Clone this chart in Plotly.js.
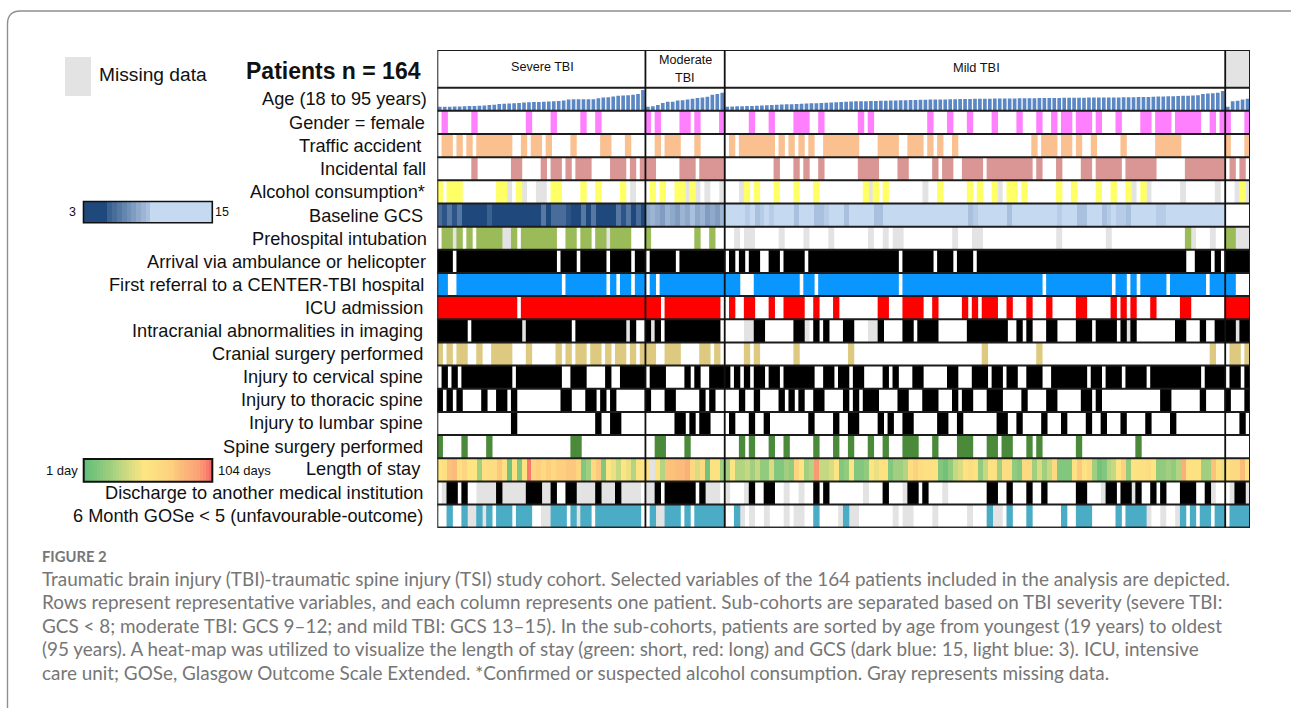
<!DOCTYPE html>
<html><head><meta charset="utf-8">
<script src="https://cdn.plot.ly/plotly-3.0.1.min.js"></script>
<style>html,body{margin:0;padding:0;background:#fff}#c{width:1291px;height:708px}</style>
</head><body><div id="c"></div>
<script>
// ---------- data ----------
const rowNames = ["Age (18 to 95 years)","Gender = female","Traffic accident","Incidental fall","Alcohol consumption*","Baseline GCS","Prehospital intubation","Arrival via ambulance or helicopter","First referral to a CENTER-TBI hospital","ICU admission","Intracranial abnormalities in imaging","Cranial surgery performed","Injury to cervical spine","Injury to thoracic spine","Injury to lumbar spine","Spine surgery performed","Length of stay","Discharge to another medical institution","6 Month GOSe < 5 (unfavourable-outcome)"];
const groupSizes = [42,16,101,5];

const ageSevere = [19,19,19,20,20,21,22,22,23,24,26,28,31,32,33,34,36,38,39,40,40,41,42,43,45,47,52,53,53,53,53,53,57,60,62,65,68,70,71,73,76,95];
const ageModerate = [19,21,27,36,41,41,47,48,51,55,58,61,64,73,76,82];
const ageMild = [19,20,21,21,22,22,23,24,25,27,28, 29,30,30,31,32,33,34,35,36,37, 38,39,40,41,42,43,44,44,45,45, 46,46,47,47,48,48,49,49,50,50, 51,51,52,52,53,53,54,54,54,55, 55,55,55,56,56,56,56,56,57,57, 57,57,58,58,58,58,58,59,59,59, 59,59,60,60,60,60,61,61,61,62, 62,62,63,63,63,64,65,65,66,66, 67,68,69,70,71,77,79,80,82,90];
const ageUnknown = [19,44,46,52,55];

const gcsSevere = [6,4,7,4,7,3,3,3,3,3,5,3,3,3,3,3,3,3,3,3,3,7,3,6,6,6,4,3,3,7,3,7,3,3,3,3,7,4,7,3,6,3];
const gcsModerate = [11,12,11,10,12,11,10,12,11,13,11,12,10,11,10,12];
const gcsMild = [15,15,15,15,14,15,13,14,15,14, 15,15,15,15,13,15,15,15,13,13, 14,15,15,15,13,15,15,15,15,15, 13,13,15,15,15,15,15,15,15,15, 15,15,15,15,15,15,15,15,15,13, 14,15,15,15,15,15,15,13,15,15, 15,15,15,15,15,15,15,14,15,15, 15,13,13,15,15,15,13,14,15,14, 14,13,15,15,15,15,15,14,14,15, 15,15,15,15,15,15,15,15,15,15,15];
const gcsUnknown = [null,null,null,null,null];
const gcsLegend = [3,3,3,3,3,5,6,7,8,9,10,11,12,13,15,15,15,15,15,15,15,15,15,15,15,15,15];

const losSevere = [10,12,22,24,12,16,10,10,5,12,13,13,20,12,2,11,3,11,85,16,18,14,18,14,18,18,20,20,16,3,5,14,20,3,10,9,7,10,9,6,11,10];
const losModerate = [11,null,11,6,22,22,24,24,30,15,8,14,2,11,11,5];
const losMild = [5,10,6,6,7,5,7,4,4,8, 3,3,5,4,16,10,5,6,45,7, 7,8,10,3,4,10,3,3,4,10, 9,11,11,3,5,5,6,13,17,13, 12,12,11,3,2,4,7,8,11,13, 11,4,7,11,12,5,13,13,4,3, 14,14,5,8,5,7,14,3,3,3, 11,20,11,14,5,2,3,6,7,10, 18,4,11,11,12,13,10,4,4,5, 4,6,30,12,11,11,5,5,22,12,9];
const losUnknown = [12,14,14,24,11];
const losMissing = [43];
const losLegend = [1,1.5,2,2.5,3,3.5,4,4.5,5,5.5,6,6.5,7,7.5,8,8.5,9,9.5,10,10,11,12,13,14,15,16,17,18,20,22,24,26,28,32,36,40,50,60,80,104];

// patient index runs: single index or [first,last]
const genderYes = [1,7,18,23,29,32,42,44,[49,50],52,57,63,67,[72,74],77,85,87,99,103,107,112,117,121,124,[126,127],[129,131],133,137,[142,143],[145,147],[149,153],156,158,159,163];
const trafficYes = [[1,2],4,6,[8,14],17,[19,20],22,27,[33,34],38,44,[46,48],52,59,[61,67],69,71,73,75,[78,84],[89,92],[95,97],99,101,104,120,[122,124],[126,127],129,132,138,[145,149],159,163];
const fallYes = [7,[15,16],21,[23,24],26,[28,30],[35,37],39,41,[42,43],[49,51],[53,57],68,72,74,77,[85,88],[93,94],100,[102,103],[106,109],[111,119],121,125,[130,131],[133,137],[139,144],[151,158],160,162];
const alcoholYes = [0,[2,4],[12,13],16,[23,24],29,32,37,43,45,[48,49],51,62,64,68,72,76,86,88,90,101,107,109,112,[115,116],118,125,128,133,136,139,142,162];
const alcoholMissing = [14,17,[20,21],39,50,52,54,57,61,87,98,113,140,143,150,157,161,163];
const intubationYes = [[1,2],4,6,[8,12],15,[17,23],[26,27],[29,30],[32,33],[35,38],42,52,55,151,[159,160]];
const intubationMissing = [3,[13,14],34,60,[62,63],69,74,79,87,90,[92,93],104,[108,109],125,135,152,156,[161,163]];
const arrivalNo = [3,24,28,34,39,42,48,58,60,62,[65,66],69,74,93,100,104,108,[151,152],156,158];
const referralNo = [[2,3],25,34,36,39,42,44,[61,63],73,76,93,122,136,139,141,147,155,[161,163]];
const icuNo = [16,45,57,58,60,61,[64,66],[68,69],[74,75],[77,79],[81,88],[91,93],[98,99],[101,105],107,109,[113,114],[116,118],[120,122],[124,128],[131,135],137,139,[141,143],[145,149],[152,158]];
const intracranialNo = [6,27,[40,41],45,57,[58,61],[66,71],75,77,[79,81],[84,86],[90,93],96,[101,106],[115,116],118,[120,122],[125,128],132,137,[141,148],[151,153],[155,156]];
const intracranialMissing = [17,38,43,[62,63],74,[87,88],139,161];
const cranialYes = [0,2,[4,5],8,[11,14],18,24,26,[28,29],[31,32],34,[36,37],39,41,[42,43],[46,48],[53,54],56,62,64,72,83,110,121,156,[160,161],163];
const cervicalNo = [0,2,4,15,[25,26],[30,33],[35,36],42,[46,49],51,[53,54],59,61,63,66,69,[76,77],80,83,[86,89],91,[93,95],[98,102],[105,107],111,114,[117,118],[122,123],131,134,138,143,154,159,162];
const thoracicYes = [0,2,4,9,[12,13],15,[25,26],[30,31],33,35,42,[46,47],53,55,61,64,69,71,73,[76,77],82,84,[86,88],[93,94],[98,100],104,[106,107],[111,113],118,[123,124],[130,131],133,[146,147],154,159,163];
const lumbarYes = [15,32,[35,36],[48,49],51,[53,54],59,63,66,75,80,[83,84],89,91,[94,95],[101,102],105,[113,114],117,122,126,131,134,138,143,148,162];
const spineSurgeryYes = [0,5,10,[27,28],[44,45],50,61,63,67,70,76,80,83,87,90,[94,96],100,[105,107],[111,112],[114,115],119,121,129,141];
const dischargeNo = [0,4,[6,7],[24,25],41,45,52,57,[59,61],[64,65],[68,69],[71,72],[74,75],77,[79,85],[87,89],[91,93],97,[99,101],[103,110],[113,114],[116,118],[120,121],[123,128],[131,133],137,[142,143],145,[147,149],[153,154],[157,158],159];
const dischargeMissing = [1,[8,11],[13,17],[21,22],[28,31],[33,35],[37,40],[42,43],[54,56],58,62,70,73,86,94,102,134,140,156,160,163];
const goseYes = [2,5,8,10,[12,14],[16,18],[23,25],27,[29,30],[32,40],43,[46,48],50,[52,57],60,76,82,111,115,119,126,[129,131],137,[139,142],150,152,[154,155],[157,158],[160,163]];
const goseMissing = [[6,7],9,[21,22],28,[44,45],61,63,66,70,[72,73],81,[83,84],92,[94,95],100,107,[112,113],143,146,149];

// ---------- colours ----------
const MISSING = "#e3e3e3";
const rowColors = {1:"#ff80ff",2:"#fac090",3:"#d99694",4:"#ffff66",6:"#9bbb59",7:"#000000",8:"#0a96ff",9:"#ff0000",10:"#000000",11:"#ddc97f",12:"#000000",13:"#000000",14:"#000000",15:"#4a8a3a",17:"#000000",18:"#4bacc6"};

// ---------- helpers ----------
const W = 1291, H = 708, N = 164;
const PL = 437.3, PR = 1250, PT = 50, PB = 527.7, HEAD = 37.7;
const rowH = (PB - PT - HEAD) / rowNames.length;
const fx = p => p / W, fy = p => 1 - p / H;
function expand(runs, val, out) { runs.forEach(r => { const a = Array.isArray(r) ? r : [r, r]; for (let i = a[0]; i <= a[1]; i++) out[i] = val; }); return out; }
function codes(base, runs, val, missing) { const o = new Array(N).fill(base); expand(runs, val, o); if (missing) expand(missing, 2, o); return o; }
const colsArr = Array.from({length:N}, (_, i) => i);

const rowCodes = {
  1: codes(0, genderYes, 1), 2: codes(0, trafficYes, 1), 3: codes(0, fallYes, 1),
  4: codes(0, alcoholYes, 1, alcoholMissing), 6: codes(0, intubationYes, 1, intubationMissing),
  7: codes(1, arrivalNo, 0), 8: codes(1, referralNo, 0), 9: codes(1, icuNo, 0),
  10: codes(1, intracranialNo, 0, intracranialMissing), 11: codes(0, cranialYes, 1),
  12: codes(1, cervicalNo, 0), 13: codes(0, thoracicYes, 1), 14: codes(0, lumbarYes, 1),
  15: codes(0, spineSurgeryYes, 1), 17: codes(1, dischargeNo, 0, dischargeMissing),
  18: codes(0, goseYes, 1, goseMissing)
};

const gcsScale = [[0,"#1f497d"],[1,"#c5d9f1"]];
const losScale = [[0,"#63be7b"],[0.04,"#a3d07f"],[0.087,"#fde583"],[0.16,"#fdd17f"],[0.24,"#fbb57a"],[0.47,"#fa9473"],[1,"#f8696b"]];
const noHover = {hoverinfo:"skip", showscale:false};

const traces = [];
// age bars
traces.push({type:"bar", x:colsArr, y:[...ageSevere,...ageModerate,...ageMild,...ageUnknown], width:0.74, xaxis:"x", yaxis:"y2", marker:{color:"#5b87c4",line:{width:0}}, hoverinfo:"skip"});
// presence / missing marks per row
function rowBars(i, code, color, width) {
  const xs = colsArr.filter(c => rowCodes[i][c] === code);
  traces.push({type:"bar", x:xs, y:xs.map(() => 1), base:xs.map(() => i - 0.5), width, xaxis:"x", yaxis:"y", marker:{color, line:{width:0}}, hoverinfo:"skip"});
}
Object.keys(rowCodes).forEach(k => { rowBars(+k, 2, MISSING, 1.2); });
Object.keys(rowCodes).forEach(k => { rowBars(+k, 1, rowColors[k], 1.28); });
// GCS row
traces.push({type:"heatmap", z:[[...gcsSevere,...gcsModerate,...gcsMild,...gcsUnknown]], x0:0, dx:1, y0:5, dy:1, xaxis:"x", yaxis:"y", zmin:3, zmax:15, colorscale:gcsScale, ...noHover});
// Length of stay row
traces.push({type:"heatmap", z:[[...losSevere,...losModerate,...losMild,...losUnknown]], x0:0, dx:1, y0:16, dy:1, xaxis:"x", yaxis:"y", zmin:1, zmax:104, colorscale:losScale, ...noHover});
traces.push({type:"heatmap", z:[codes(null, losMissing, 1)], x0:0, dx:1, y0:16, dy:1, xaxis:"x", yaxis:"y", zmin:0, zmax:1, colorscale:[[0,MISSING],[1,MISSING]], ...noHover});
// colour legends
traces.push({type:"heatmap", z:[gcsLegend], xaxis:"x2", yaxis:"y3", zmin:3, zmax:15, colorscale:gcsScale, ...noHover});
traces.push({type:"heatmap", z:[losLegend], xaxis:"x3", yaxis:"y4", zmin:1, zmax:104, colorscale:losScale, ...noHover});

// ---------- shapes ----------
const shapes = [];
const LINE = "#1c1c1c", LW = 2;
shapes.push({type:"rect", xref:"x", yref:"y", x0:N-groupSizes[3]-0.5, x1:N-0.5, y0:-0.5-HEAD/rowH, y1:-0.5, fillcolor:"#e3e3e3", line:{width:0}, layer:"below"});
for (let i = 0; i <= rowNames.length; i++) {
  shapes.push({type:"line", xref:"x", yref:"y", x0:-0.5, x1:N-0.5, y0:i-0.5, y1:i-0.5, line:{color:LINE, width:LW}});
}
shapes.push({type:"rect", xref:"x", yref:"y", x0:-0.5, x1:N-0.5, y0:-0.5-HEAD/rowH, y1:rowNames.length-0.5, line:{color:LINE, width:LW}});
let cum = 0;
groupSizes.slice(0,-1).forEach(s => { cum += s; shapes.push({type:"line", xref:"x", yref:"y", x0:cum-0.5, x1:cum-0.5, y0:-0.5-HEAD/rowH, y1:rowNames.length-0.5, line:{color:"#111", width:1.8}}); });
shapes.push({type:"rect", xref:"paper", yref:"paper", x0:fx(65), x1:fx(91), y0:fy(57), y1:fy(96), fillcolor:MISSING, line:{width:0}});
shapes.push({type:"rect", xref:"paper", yref:"paper", x0:fx(83.5), x1:fx(212.3), y0:fy(201.5), y1:fy(222.7), line:{color:"#111", width:1.6}});
shapes.push({type:"rect", xref:"paper", yref:"paper", x0:fx(83.7), x1:fx(212.3), y0:fy(459), y1:fy(481.7), line:{color:"#111", width:2}});
const r = 13, fl = 7.5, ft = 11;
shapes.push({type:"path", xref:"paper", yref:"paper",
  path:`M ${fx(fl)} 0 L ${fx(fl)} ${fy(ft+r)} Q ${fx(fl)} ${fy(ft)} ${fx(fl+r)} ${fy(ft)} L 1 ${fy(ft)}`,
  line:{color:"#8f8f8f", width:1.4}});

// ---------- text ----------
const annotations = [];
const ARIAL = "Liberation Sans, Arial, sans-serif";
const note = (px, py, text, size, anchor, extra) => annotations.push(Object.assign({xref:"paper", yref:"paper", x:fx(px), y:fy(py), text, showarrow:false, xanchor:anchor, yanchor:"middle", align:anchor, borderpad:0, font:{family:ARIAL, size, color:"#111"}}, extra||{}));
const labelRight = [427.5,426,422,427,426,424,428,427,425,424,424,424,424,424,424,424,422,424,424];
const labelShift = [0,0.5,0.5,0.5,0.5,0.5,0.5,0.5,0.5,0,0,0,0,0,0,0,-1,0,0];
rowNames.forEach((t, i) => note(labelRight[i], PT + HEAD + rowH * (i + 0.5) + labelShift[i], t, 18.2, "right"));
note(542.5, 67, "Severe TBI", 12.6, "center");
note(685, 60, "Moderate", 12.6, "center");
note(685, 78, "TBI", 12.6, "center");
note(976, 67, "Mild TBI", 12.8, "center");
note(245, 71, "<b>Patients n = 164</b>", 23, "left");
note(98, 74.5, "Missing data", 19.2, "left");
note(72.5, 212, "3", 12.5, "center");
note(214, 212, "15", 12.5, "left");
note(79, 470, "1 day", 13, "right");
note(217, 470, "104 days", 13, "left");
const CAP = "Lato, Noto Sans, sans-serif", CAPC = "#767676";
note(41, 556, "<b>FIGURE 2</b>", 14.8, "left", {font:{family:CAP,size:14.8,color:CAPC}});
["Traumatic brain injury (TBI)-traumatic spine injury (TSI) study cohort. Selected variables of the 164 patients included in the analysis are depicted.",
 "Rows represent representative variables, and each column represents one patient. Sub-cohorts are separated based on TBI severity (severe TBI:",
 "GCS < 8; moderate TBI: GCS 9–12; and mild TBI: GCS 13–15). In the sub-cohorts, patients are sorted by age from youngest (19 years) to oldest",
 "(95 years). A heat-map was utilized to visualize the length of stay (green: short, red: long) and GCS (dark blue: 15, light blue: 3). ICU, intensive",
 "care unit; GOSe, Glasgow Outcome Scale Extended. *Confirmed or suspected alcohol consumption. Gray represents missing data."
].forEach((t, i) => note(41, 578 + 23.5 * i, t, 18.9, "left", {font:{family:CAP,size:18.9,color:CAPC}}));

const hidden = {visible:false, fixedrange:true};
const layout = {
  width:W, height:H, margin:{l:0,r:0,t:0,b:0,pad:0}, paper_bgcolor:"#fff", plot_bgcolor:"rgba(0,0,0,0)", showlegend:false, barmode:"overlay",
  xaxis:{...hidden, domain:[fx(PL),fx(PR)], range:[-0.5,N-0.5]},
  yaxis:{...hidden, domain:[fy(PB),fy(PT)], range:[rowNames.length-0.5,-0.5-HEAD/rowH]},
  yaxis2:{...hidden, domain:[fy(PT+HEAD+rowH),fy(PT+HEAD)], range:[0,105], anchor:"x"},
  xaxis2:{...hidden, domain:[fx(83.5),fx(212.3)], anchor:"y3"},
  yaxis3:{...hidden, domain:[fy(222.7),fy(201.5)], anchor:"x2"},
  xaxis3:{...hidden, domain:[fx(83.7),fx(212.3)], anchor:"y4"},
  yaxis4:{...hidden, domain:[fy(481.7),fy(459)], anchor:"x3"},
  shapes, annotations
};
Plotly.newPlot("c", traces, layout, {staticPlot:true, displayModeBar:false});
</script></body></html>
